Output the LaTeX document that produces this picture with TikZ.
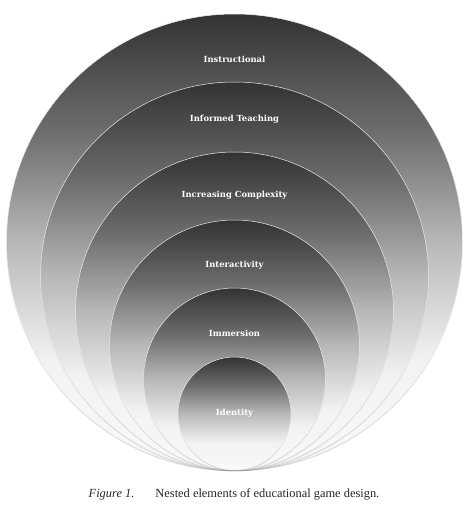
\documentclass[tikz,border=0pt]{standalone}
\usepackage{fontspec}
\setmainfont{Liberation Serif}
\newfontfamily\labelfont{DejaVu Serif}
\usetikzlibrary{shadows}
\pgfdeclareverticalshading{ringshade}{100bp}{%
  color(0bp)=(black!2); color(25bp)=(black!2); color(37bp)=(black!5);
  color(50bp)=(black!28); color(62bp)=(black!57); color(75bp)=(black!80);
  color(100bp)=(black!80)}
\tikzset{
  ring/.style={circle, inner sep=0pt, shading=ringshade,
    draw=black!8, line width=0.5pt,
    drop shadow={shadow xshift=0pt, shadow yshift=-1.2pt, opacity=0.3}},
  ringlabel/.style={text=white, font=\labelfont\bfseries\fontsize{8.4}{10}\selectfont},
  figcaption/.style={font=\fontsize{12.4}{14}\selectfont, text=black!85},
}

\begin{document}
\begin{tikzpicture}[x=1pt,y=-1pt]
\useasboundingbox (0,0) rectangle (470,516);
% nested circles, all touching at the bottom
\node[ring, minimum size=456pt] (instructional) at (234.5,242) {};
\node[ring, minimum size=388pt] (informed) at (234.5,276) {};
\node[ring, minimum size=318pt] (complexity) at (234.5,311) {};
\node[ring, minimum size=250pt] (interactivity) at (234.5,345) {};
\node[ring, minimum size=182pt] (immersion) at (234.5,379) {};
\node[ring, minimum size=113pt] (identity) at (234.5,413.5) {};
% labels
\node[ringlabel] (lblinstructional) at (234.5,59) {Instructional};
\node[ringlabel] (lblinformed) at (234.5,119) {Informed Teaching};
\node[ringlabel] (lblcomplexity) at (234.5,195) {Increasing Complexity};
\node[ringlabel] (lblinteractivity) at (234.5,265) {Interactivity};
\node[ringlabel] (lblimmersion) at (234.5,333) {Immersion};
\node[ringlabel] (lblidentity) at (234.5,413) {Identity};
% caption
\node[figcaption] (caption) at (234,494) {\textit{Figure 1.}\hspace{1.7em}Nested elements of educational game design.};
\end{tikzpicture}
\end{document}
